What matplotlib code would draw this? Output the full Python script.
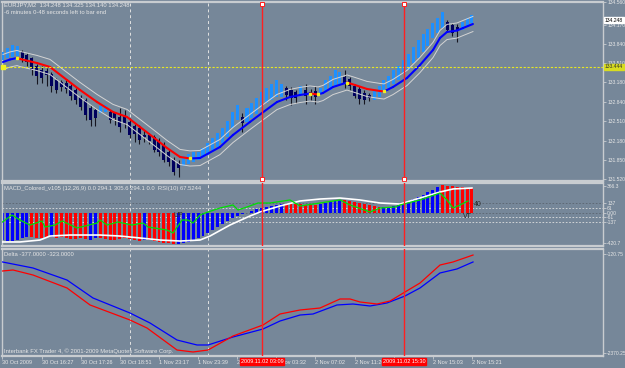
import matplotlib
matplotlib.use("Agg")
import matplotlib.pyplot as plt
import matplotlib.transforms as mtransforms
import numpy as np

plt.rcParams["font.family"] = ["Liberation Sans", "DejaVu Sans"]

FONDO = "#768799"
BORDE = "#c8ccd0"
TEXTO = "#e6e6e6"

#--- Velas EURJPY M2 (precio)
apertura = [133.56, 133.60, 133.62, 133.63, 133.70, 133.65, 133.60, 133.46, 133.39, 133.37,
            133.32, 133.22, 133.19, 133.17, 133.12, 133.05, 132.93, 132.88, 132.74, 132.71,
            132.65, 132.67, 132.67, 132.65, 132.58, 132.62, 132.50, 132.43, 132.40, 132.28,
            132.28, 132.24, 132.17, 132.10, 131.98, 131.85, 131.79, 131.74, 131.78, 131.81,
            131.85, 131.90, 131.93, 132.02, 132.07, 132.14, 132.24, 132.40, 132.53, 132.58,
            132.50, 132.57, 132.64, 132.74, 132.83, 132.88, 132.93, 132.93, 133.08, 133.05,
            133.01, 132.98, 133.05, 133.01, 133.03, 132.98, 133.01, 133.05, 133.12, 133.15,
            133.27, 133.24, 133.12, 133.07, 133.00, 132.96, 132.88, 132.93, 133.00, 133.08,
            133.15, 133.22, 133.32, 133.39, 133.51, 133.60, 133.70, 133.80, 133.94, 134.03,
            134.11, 134.22, 134.16, 134.13, 134.08, 134.15, 134.20]
cierre = [133.70, 133.77, 133.82, 133.80, 133.60, 133.53, 133.39, 133.29, 133.25, 133.31,
          133.12, 133.05, 133.10, 133.07, 132.95, 132.88, 132.76, 132.62, 132.53, 132.57,
          132.77, 132.79, 132.53, 132.57, 132.41, 132.46, 132.28, 132.29, 132.19, 132.24,
          132.17, 132.02, 131.98, 131.85, 131.81, 131.64, 131.71, 131.91, 131.95, 131.98,
          131.98, 132.05, 132.14, 132.22, 132.31, 132.40, 132.52, 132.67, 132.79, 132.48,
          132.74, 132.82, 132.91, 133.01, 133.08, 133.15, 133.22, 133.15, 132.96, 132.91,
          132.91, 133.12, 132.95, 132.95, 132.93, 133.08, 133.22, 133.29, 133.39, 133.36,
          133.15, 133.12, 132.95, 132.89, 132.88, 132.91, 133.05, 133.12, 133.22, 133.29,
          133.39, 133.46, 133.56, 133.67, 133.79, 133.91, 134.01, 134.10, 134.20, 134.29,
          134.39, 134.08, 134.03, 134.06, 134.22, 134.28, 134.34]
maximo = [133.70, 133.77, 133.82, 133.80, 133.74, 133.68, 133.62, 133.50, 133.46, 133.43,
          133.36, 133.25, 133.22, 133.22, 133.15, 133.08, 132.96, 132.91, 132.79, 132.74,
          132.77, 132.79, 132.71, 132.67, 132.74, 132.71, 132.57, 132.46, 132.45, 132.36,
          132.31, 132.28, 132.22, 132.16, 132.02, 131.90, 131.85, 131.91, 131.95, 131.98,
          131.98, 132.05, 132.14, 132.22, 132.31, 132.40, 132.52, 132.67, 132.79, 132.65,
          132.74, 132.82, 132.91, 133.01, 133.08, 133.15, 133.22, 133.15, 133.12, 133.10,
          133.05, 133.12, 133.15, 133.07, 133.12, 133.08, 133.22, 133.29, 133.39, 133.36,
          133.39, 133.27, 133.15, 133.12, 133.05, 133.00, 133.05, 133.12, 133.22, 133.29,
          133.39, 133.46, 133.56, 133.67, 133.79, 133.91, 134.01, 134.10, 134.20, 134.29,
          134.39, 134.25, 134.20, 134.18, 134.22, 134.28, 134.34]
minimo = [133.56, 133.60, 133.62, 133.63, 133.53, 133.46, 133.31, 133.15, 133.17, 133.12,
          133.01, 133.00, 133.03, 133.00, 132.88, 132.81, 132.71, 132.53, 132.43, 132.43,
          132.65, 132.67, 132.48, 132.45, 132.33, 132.40, 132.22, 132.16, 132.12, 132.16,
          132.12, 131.98, 131.91, 131.81, 131.74, 131.59, 131.55, 131.74, 131.78, 131.81,
          131.85, 131.90, 131.93, 132.02, 132.07, 132.14, 132.24, 132.40, 132.53, 132.33,
          132.50, 132.57, 132.64, 132.74, 132.83, 132.88, 132.93, 132.93, 132.88, 132.79,
          132.82, 132.98, 132.81, 132.88, 132.81, 132.98, 133.01, 133.05, 133.12, 133.15,
          133.08, 133.05, 132.91, 132.81, 132.81, 132.86, 132.88, 132.93, 133.00, 133.08,
          133.15, 133.22, 133.32, 133.39, 133.51, 133.60, 133.70, 133.80, 133.94, 134.03,
          134.11, 134.04, 133.98, 133.87, 134.08, 134.15, 134.20]

# media movil (barra, precio)
ma_barra = [0.1, 1.53, 2.97, 3.58, 7.06, 9.71, 13.19, 15.85, 19.33, 22.6, 25.46, 28.12,
            30.78, 33.64, 36.3, 38.34, 40.39, 44.48, 47.14, 50.61, 53.07, 56.13, 58.79,
            60.84, 62.88, 64.52, 65.54, 67.59, 70.45, 72.09, 74.54, 77.2, 78.02, 79.86,
            82.72, 85.38, 88.04, 89.47, 90.9, 92.94, 94.17, 96.2]
ma_precio = [133.529, 133.572, 133.598, 133.581, 133.512, 133.444, 133.220, 133.049,
             132.842, 132.671, 132.585, 132.413, 132.241, 132.052, 131.898, 131.872,
             131.880, 132.069, 132.276, 132.499, 132.653, 132.842, 132.928, 132.963,
             132.988, 132.971, 132.997, 133.100, 133.177, 133.134, 133.066, 133.031,
             133.023, 133.100, 133.255, 133.478, 133.736, 133.942, 134.045, 134.070,
             134.113, 134.182]
envelope = 0.13

bid = 134.248
linea_amarilla = 133.444
precio_ticks = [131.52, 131.85, 132.18, 132.51, 132.84, 133.18, 133.51, 133.84, 134.17, 134.56]

#--- MACD coloreado
macd = [-380, -394, -394, -380, -352, -338, -338, -352, -352, -338,
        -338, -352, -338, -352, -366, -366, -352, -366, -380, -352,
        -352, -366, -380, -380, -366, -352, -366, -380, -394, -380,
        -380, -394, -407, -421, -421, -435, -435, -421, -407, -380,
        -352, -325, -283, -242, -200, -159, -117, -76, -48, -21,
        -7, 21, 48, 62, 76, 90, 104, 117, 117, 117,
        117, 117, 104, 104, 104, 117, 131, 145, 159, 173,
        173, 159, 145, 131, 117, 104, 90, 76, 76, 76,
        90, 104, 131, 159, 186, 214, 242, 283, 311, 352,
        380, 366, 366, 352, 352, 338, 338]
macd_color = (["b"] * 6 + ["r"] * 4 + ["b"] + ["r"] * 7 + ["b"] * 2 + ["r"] * 9 + ["b"]
              + ["r"] * 6 + ["b"] * 22 + ["r"] * 7 + ["b"] * 5 + ["r"] * 8 + ["b"] * 12
              + ["r"] * 7)

senal_barra = [0, 3.58, 7.67, 9.71, 13.8, 19.94, 24.03, 28.12, 32.21, 36.3, 40.39, 42.43,
               46.52, 50.61, 52.66, 56.75, 60.84, 64.93, 69.02, 73.11, 77.2, 81.29, 85.38,
               89.47, 92.13, 96.0]
senal = [-407, -407, -380, -325, -311, -311, -325, -352, -380, -394, -380, -325,
         -173, -48, 7, 90, 159, 186, 200, 173, 131, 117, 200, 283, 325, 338]

rsi_barra = [0, 1.94, 3.58, 5.62, 8.08, 8.69, 10.74, 12.17, 15.24, 19.33, 19.94, 21.37,
             23.62, 26.48, 28.73, 29.75, 33.64, 34.87, 36.71, 37.93, 38.96, 40.39, 42.03,
             44.48, 47.14, 48.16, 50.0, 52.25, 54.7, 58.79, 60.84, 64.93, 69.02, 71.07,
             75.15, 77.2, 80.27, 81.29, 85.38, 89.47, 90.9, 92.13, 93.56, 95.19]
rsi = [-131, -35, -104, -173, -117, -200, -173, -117, -214, -145, -104, -173,
       -131, -173, -145, -200, -242, -283, -104, -104, -145, -35, 7,
       62, 104, 35, 76, 131, 131, 173, 90, 131, 173, 104,
       7, 62, 76, 104, 173, 269, 173, 62, 104, 159]
macd_ticks = [366.3, 137, 61, 0, -61, -137, -420.7]
macd_etiquetas = ["366.3", "137", "61", "0.00", "-61", "-137", "-420.7"]

#--- Delta
delta_azul_barra = [0, 6.24, 13.19, 18.5, 26.07, 30.16, 35.69, 39.78, 42.03, 47.14, 53.27,
                    56.75, 60.84, 63.5, 68.4, 71.68, 75.15, 78.63, 82.31, 85.38, 89.47,
                    92.94, 96.22]
delta_azul = [-302, -439, -712, -1120, -1461, -1688, -2075, -2188, -2188, -2006, -1825,
              -1643, -1507, -1484, -1279, -1257, -1302, -1234, -1075, -893, -552, -461, -302]
delta_rojo_barra = [0, 2.15, 6.24, 13.19, 17.9, 26.07, 29.55, 35.69, 38.96, 42.03, 47.14,
                    53.27, 56.75, 60.84, 64.93, 69.02, 71.07, 73.11, 76.59, 79.25, 82.31,
                    85.38, 89.47, 92.13, 96.22]
delta_rojo = [-507, -484, -598, -893, -1279, -1620, -1802, -2302, -2347, -2302, -1984,
              -1734, -1484, -1393, -1348, -1143, -1143, -1211, -1257, -1189, -984, -780,
              -371, -302, -144]

#--- Eje de tiempo y lineas verticales
tiempo_pos = list(range(0, 97, 8))
tiempo_etiquetas = ["30 Oct 2009", "30 Oct 16:27", "30 Oct 17:26", "30 Oct 18:51",
                    "1 Nov 23:17", "1 Nov 23:39", "2 Nov 01:05", "2 Nov 03:32",
                    "2 Nov 07:02", "2 Nov 11:20", "2 Nov 13:25", "2 Nov 15:03", "2 Nov 15:21"]
lineas_rojas = [53.07, 82.1]
lineas_rojas_etiqueta = ["2009.11.02 03:09", "2009.11.02 15:30"]
separadores = [26.07, 42.03]


fig = plt.figure(figsize=(6.25, 3.68), dpi=100, facecolor=FONDO)
W, H = 625.0, 368.0
izq, ancho = 2 / W, 601 / W
ax1 = fig.add_axes([izq, (H - 181) / H, ancho, 179 / H])
ax2 = fig.add_axes([izq, (H - 246) / H, ancho, 63 / H])
ax3 = fig.add_axes([izq, (H - 356) / H, ancho, 107 / H])

for ax in (ax1, ax2, ax3):
    ax.set_facecolor(FONDO)
    ax.set_xlim(-0.1, 122.8)
    for lado, sp in ax.spines.items():
        sp.set_color(BORDE)
        sp.set_linewidth(1.6 if lado in ("top", "bottom") else 1.0)
    ax.yaxis.tick_right()
    ax.tick_params(axis="y", colors=BORDE, labelcolor=TEXTO, labelsize=3.6,
                   length=2, width=0.6, pad=1.0)
    for x in separadores:
        ax.axvline(x, color="#e2e2e2", lw=0.7, ls=(0, (3, 3)), zorder=1)
    for x in lineas_rojas:
        ax.axvline(x, color="#ff2020", lw=1.0, zorder=6)

ax1.set_xticks([])
ax2.set_xticks([])

# velas
barras = np.arange(len(cierre))
ap = np.array(apertura)
ci = np.array(cierre)
sube = ci > ap
ax1.vlines(barras[~sube], np.array(minimo)[~sube], np.array(maximo)[~sube],
           color="#15151f", lw=0.8, zorder=2)
ax1.bar(barras, ci - ap, bottom=ap, width=0.62,
        color=np.where(sube, "#1e90ff", "#00005e"), zorder=3)

# envelope y media
ma_b = np.array(ma_barra)
ma_p = np.array(ma_precio)
ax1.plot(ma_b, ma_p + envelope, color="#d4d4d4", lw=0.7, zorder=4)
ax1.plot(ma_b, ma_p - envelope, color="#d4d4d4", lw=0.7, zorder=4)
for k in range(len(ma_b) - 1):
    col = "#0000ff" if ma_p[k + 1] >= ma_p[k] else "#ff0000"
    ax1.plot(ma_b[k:k + 2], ma_p[k:k + 2], color=col, lw=1.5,
             solid_capstyle="round", zorder=5)
pend = np.sign(np.diff(ma_p))
giros = [k + 1 for k in range(len(pend) - 1) if pend[k] != pend[k + 1]]
ax1.plot(ma_b[giros], ma_p[giros], "s", color="#f0f020", ms=2, zorder=6)

ax1.axhline(linea_amarilla, color="#e8e820", lw=0.8, ls=(0, (2, 1.5)), zorder=5)
ax1.plot([0.15], [linea_amarilla], "s", color="#f0f020", ms=2.5, zorder=6, clip_on=False)

ax1.set_ylim(131.485, 134.560)
ax1.set_yticks(precio_ticks)
ax1.set_yticklabels(["%.3f" % v for v in precio_ticks])

trans1 = mtransforms.blended_transform_factory(ax1.transAxes, ax1.transData)
ax1.text(1.003, bid, "%.3f" % bid, transform=trans1, fontsize=3.6, color="black",
         va="center", ha="left", clip_on=False, zorder=10,
         bbox=dict(boxstyle="square,pad=0.15", fc="white", ec="white"))
ax1.text(1.003, linea_amarilla, "%.3f" % linea_amarilla, transform=trans1, fontsize=3.6,
         color="#303030", va="center", ha="left", clip_on=False, zorder=10,
         bbox=dict(boxstyle="square,pad=0.15", fc="#d8dc20", ec="#d8dc20"))

trans1x = mtransforms.blended_transform_factory(ax1.transData, ax1.transAxes)
for x in lineas_rojas:
    ax1.plot([x, x], [0.99, 0.01], "s", transform=trans1x, ms=2.5, mfc="white",
             mec="#ff2020", mew=0.7, zorder=7, clip_on=False)

# MACD
ax2.bar(barras, macd, width=0.6,
        color=["#0000ff" if c == "b" else "#ff0000" for c in macd_color], zorder=2)
for nivel, col in [(137, "#5a6470"), (61, "#e0e0e0"), (0, "#5a6470"),
                   (-61, "#e0e0e0"), (-137, "#e0e0e0")]:
    ax2.axhline(nivel, color=col, lw=0.6, ls=(0, (2, 2)), zorder=1)
ax2.plot(senal_barra, senal, color="white", lw=1.2, zorder=3)
ax2.plot(rsi_barra, rsi, color="#00e000", lw=0.9, zorder=4)
ax2.set_ylim(-462.6, 407.4)
ax2.set_yticks(macd_ticks)
ax2.set_yticklabels(macd_etiquetas)
ax2.text(35.9, -35, "UP", fontsize=5, color="#2a2a2a", ha="center", va="center", zorder=8)
ax2.text(95.1, -62, "VT", fontsize=5, color="#2a2a2a", ha="center", va="center", zorder=8)
ax2.text(96.3, 117, "40", fontsize=5, color="#2a2a2a", ha="left", va="center", zorder=8)

# Delta
ax3.plot(delta_azul_barra, delta_azul, color="#0000ff", lw=0.9, zorder=3)
ax3.plot(delta_rojo_barra, delta_rojo, color="#ff0000", lw=0.9, zorder=3)
ax3.set_ylim(-2438.2, -7.2)
ax3.set_yticks([-120.75, -2370.25])
ax3.set_yticklabels(["-120.75", "-2370.25"])

ax3.set_xticks(tiempo_pos)
ax3.set_xticklabels(tiempo_etiquetas, ha="left")
ax3.tick_params(axis="x", colors=BORDE, labelcolor=TEXTO, labelsize=4,
                length=2, width=0.6, pad=1.0)
trans3 = mtransforms.blended_transform_factory(ax3.transData, ax3.transAxes)
for x, txt in zip(lineas_rojas, lineas_rojas_etiqueta):
    ax3.text(x, -0.025, txt, transform=trans3, fontsize=4, color="white",
             ha="center", va="top", clip_on=False, zorder=12,
             bbox=dict(boxstyle="square,pad=0.2", fc="#ff0000", ec="#ff0000"))

# textos
def px(x, y):
    return x / W, 1 - y / H

fig.text(*px(4, 5), "EURJPY,M2  134.248 134.325 134.140 134.248", fontsize=4.2,
         color=TEXTO, va="center")
fig.text(*px(4, 13), "-6 minutes 0-48 seconds left to bar end", fontsize=4.2,
         color=TEXTO, va="center")
fig.text(*px(4, 188), "MACD_Colored_v105 (12,26,9) 0.0 294.1 305.6 294.1 0.0  RSI(10) 67.5244",
         fontsize=4.2, color=TEXTO, va="center")
fig.text(*px(4, 254), "Delta -377.0000 -323.0000", fontsize=4.2, color=TEXTO, va="center")
fig.text(*px(4, 351), "Interbank FX Trader 4, \u00a9 2001-2009 MetaQuotes Software Corp.",
         fontsize=4.2, color=TEXTO, va="center")

plt.savefig("out.png", dpi=100, facecolor=FONDO)
